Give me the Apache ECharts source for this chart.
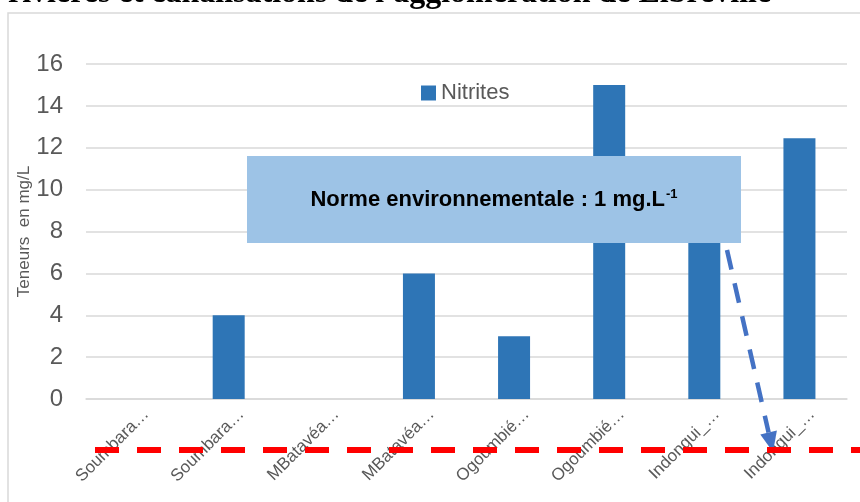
<!DOCTYPE html>
<html lang="fr" style="height: 100%">
<head>
    <meta charset="utf-8">
    <title>Teneurs en nitrites</title>
    <script src="https://cdn.jsdelivr.net/npm/echarts@6/dist/echarts.min.js"></script>
    <style>
        body { margin: 0; background: #ffffff; }
        #main { width: 860px; height: 502px; }
    </style>
</head>
<body>
    <div id="main"></div>

    <script>
        // données
        var stations = ['Soumbara…', 'Soumbara…', 'MBatavéa…', 'MBatavéa…', 'Ogoumbié…', 'Ogoumbié…', 'Indongui_…', 'Indongui_…'];
        var nitrites = [0, 4, 0, 6, 3, 15, 9, 12.45];
        var yTicks = [0, 2, 4, 6, 8, 10, 12, 14, 16];

        var titre = "rivières et canalisations de l'agglomération de Libreville";
        var norme = 'Norme environnementale : 1 mg.L';

        var gris = '#595959';
        var sans = "'Liberation Sans', Arial, sans-serif";
        var chart = echarts.init(document.getElementById('main'));

        var option = {
            backgroundColor: '#ffffff',
            animation: false,
            grid: { left: 86, right: 13, top: 64, bottom: 103 },
            legend: {
                left: 416,
                top: 77,
                icon: 'rect',
                itemWidth: 15,
                itemHeight: 15,
                textStyle: { fontFamily: sans, fontSize: 22, color: gris },
                data: ['Nitrites']
            },
            xAxis: {
                type: 'category',
                data: stations,
                axisLine: { lineStyle: { color: '#d9d9d9', width: 1.5 } },
                axisTick: { show: false },
                axisLabel: {
                    interval: 0,
                    rotate: 45,
                    margin: 0,
                    verticalAlign: 'top',
                    lineHeight: 36,
                    fontFamily: sans,
                    fontSize: 17,
                    color: gris
                }
            },
            yAxis: {
                type: 'value',
                min: yTicks[0],
                max: yTicks[yTicks.length - 1],
                interval: 2,
                name: 'Teneurs  en mg/L',
                nameLocation: 'middle',
                nameRotate: 90,
                nameGap: 53,
                nameMoveOverlap: false,
                nameTextStyle: { fontFamily: sans, fontSize: 17, color: gris },
                axisLine: { show: false },
                axisTick: { show: false },
                axisLabel: {
                    margin: 23,
                    fontFamily: sans,
                    fontSize: 24,
                    color: gris
                },
                splitLine: { lineStyle: { color: '#d9d9d9', width: 1.5 } }
            },
            series: [{
                name: 'Nitrites',
                type: 'bar',
                barWidth: 32,
                itemStyle: { color: '#2e75b6' },
                data: nitrites
            }],
            graphic: [
                // cadre du graphique
                {
                    type: 'rect', z: 1, silent: true,
                    shape: { x: 8, y: 13, width: 900, height: 600 },
                    style: { fill: 'none', stroke: '#d9d9d9', lineWidth: 1.5 }
                },
                // fin du titre de la figure (coupé en haut)
                {
                    type: 'text', z: 100,
                    x: 8, y: -6,
                    style: {
                        text: titre,
                        font: "bold 32px 'Liberation Serif', 'Times New Roman', serif",
                        fill: '#000000',
                        verticalAlign: 'middle'
                    }
                },
                // encadré de la norme
                {
                    type: 'rect', z: 100,
                    shape: { x: 247, y: 156, width: 494, height: 87 },
                    style: { fill: '#9dc3e6' }
                },
                {
                    type: 'text', z: 101,
                    x: 494, y: 200,
                    style: {
                        text: '{n|' + norme + '}{s|-1}',
                        align: 'center',
                        verticalAlign: 'middle',
                        rich: {
                            n: { fontFamily: sans, fontWeight: 'bold', fontSize: 22, color: '#000000', lineHeight: 24 },
                            s: { fontFamily: sans, fontWeight: 'bold', fontSize: 13, color: '#000000', verticalAlign: 'top', lineHeight: 24, padding: [0, 0, 10, 1] }
                        }
                    }
                },
                // flèche bleue en pointillés
                {
                    type: 'polyline', z: 102,
                    shape: { points: [[727, 250], [768.6, 432.5]] },
                    style: { stroke: '#4472c4', lineWidth: 4.5, lineDash: [20, 14], fill: 'none' }
                },
                {
                    type: 'polygon', z: 102,
                    shape: { points: [[773, 452], [776.9, 430.6], [760.3, 434.4]] },
                    style: { fill: '#4472c4' }
                },
                // ligne rouge de la norme
                {
                    type: 'line', z: 103,
                    shape: { x1: 95, y1: 450, x2: 862, y2: 450 },
                    style: { stroke: '#ff0000', lineWidth: 6, lineDash: [24, 18] }
                }
            ]
        };

        chart.setOption(option);
    </script>
</body>
</html>
